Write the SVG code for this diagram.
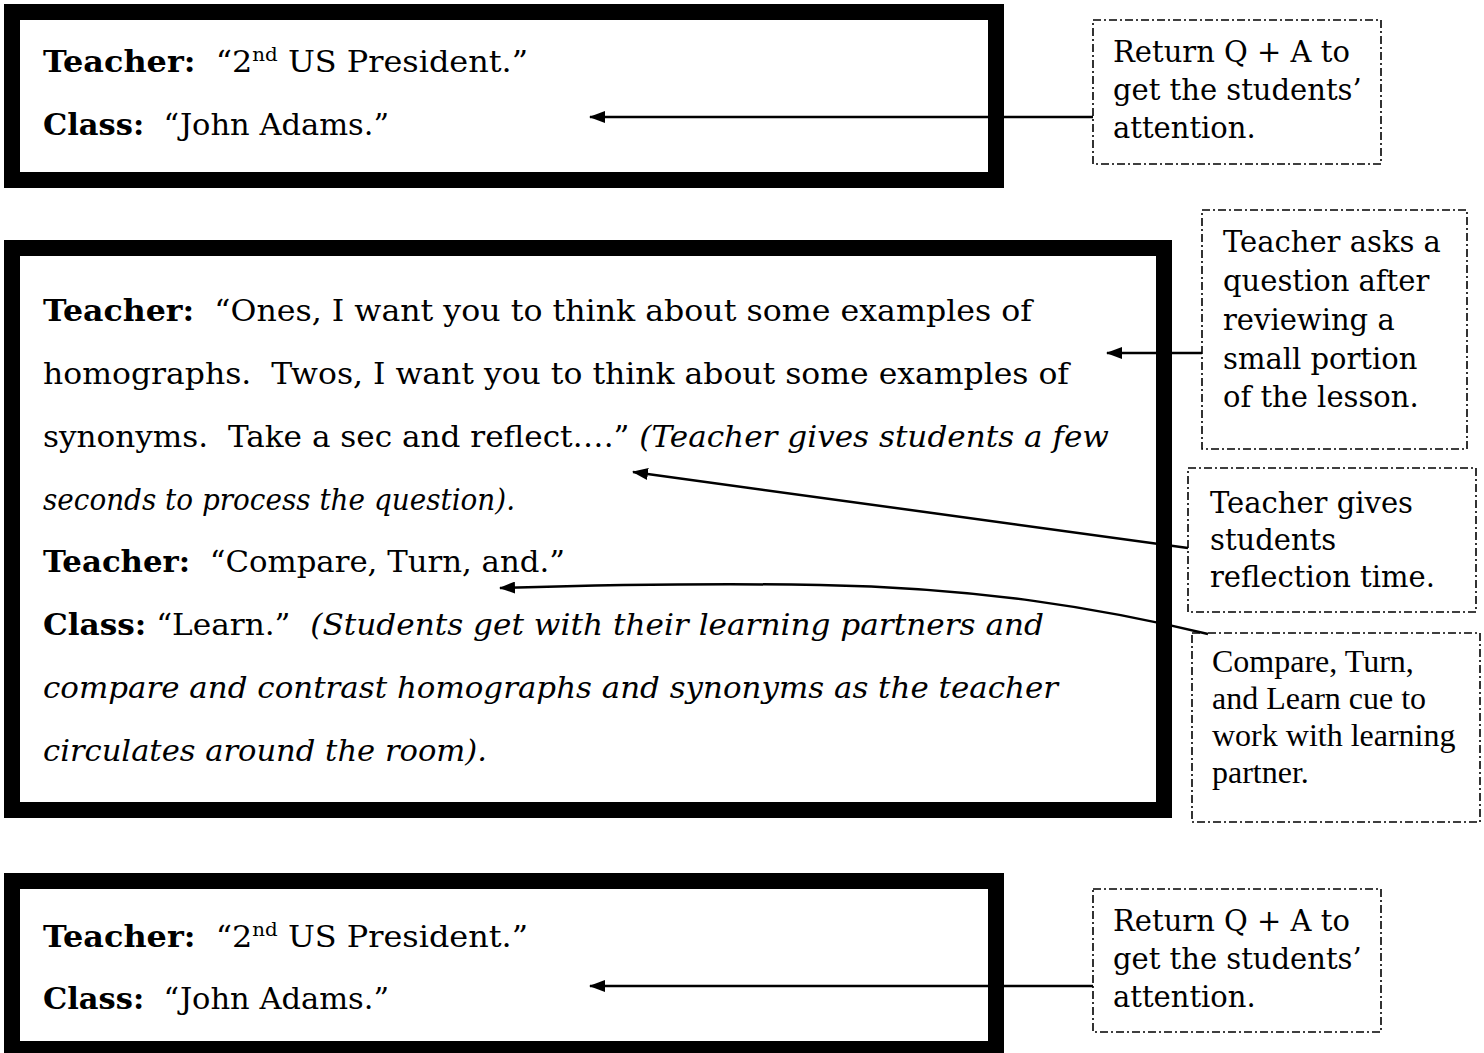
<svg xmlns="http://www.w3.org/2000/svg" width="1484" height="1053" viewBox="0 0 1484 1053" xml:space="preserve">
<defs>
<style>
text{white-space:pre}
.frame{fill:none;stroke:#000;stroke-width:16}
.call{fill:#fff;stroke:#000;stroke-width:1.6;stroke-dasharray:8 3 2 3}
.t{font-family:"DejaVu Serif","Liberation Serif",serif;font-size:30px;fill:#000}
.t1{font-family:"DejaVu Serif","Liberation Serif",serif;font-size:29px;fill:#000}
.c{font-family:"DejaVu Serif","Liberation Serif",serif;font-size:29px;fill:#000}
.c4{font-family:"Liberation Serif",serif;font-size:32px;fill:#000}
.b{font-weight:bold}
.i{font-style:italic}
.sup{font-size:18px}
.arr{fill:none;stroke:#000;stroke-width:2.5;marker-end:url(#ah)}
</style>
<marker id="ah" viewBox="0 0 16 12" refX="15" refY="6" markerUnits="userSpaceOnUse" markerWidth="16" markerHeight="12" orient="auto">
<path d="M0,0 L16,6 L0,12 z" fill="#000"/>
</marker>
</defs>
<rect width="1484" height="1053" fill="#fff"/>

<g id="box1">
<rect class="frame" x="12" y="12" width="984" height="168"/>
<text class="t1" x="43" y="72" textLength="485" lengthAdjust="spacingAndGlyphs"><tspan class="b">Teacher:</tspan>  “2<tspan class="sup" dy="-11">nd</tspan><tspan dy="11"> US President.”</tspan></text>
<text class="t1" x="43" y="135" textLength="346" lengthAdjust="spacingAndGlyphs"><tspan class="b">Class:</tspan>  “John Adams.”</text>
</g>

<g id="box2">
<rect class="frame" x="12" y="248" width="1152" height="562"/>
<text class="t" x="43" y="321" textLength="989" lengthAdjust="spacingAndGlyphs"><tspan class="b">Teacher:</tspan>  “Ones, I want you to think about some examples of</text>
<text class="t" x="43" y="384" textLength="1026" lengthAdjust="spacingAndGlyphs">homographs.  Twos, I want you to think about some examples of</text>
<text class="t" x="43" y="447" textLength="1066" lengthAdjust="spacingAndGlyphs">synonyms.  Take a sec and reflect….” <tspan class="i">(Teacher gives students a few</tspan></text>
<text class="t i" x="43" y="510" textLength="472" lengthAdjust="spacingAndGlyphs">seconds to process the question).</text>
<text class="t" x="43" y="572" textLength="522" lengthAdjust="spacingAndGlyphs"><tspan class="b">Teacher:</tspan>  “Compare, Turn, and.”</text>
<text class="t" x="43" y="635" textLength="1001" lengthAdjust="spacingAndGlyphs"><tspan class="b">Class:</tspan> “Learn.”  <tspan class="i">(Students get with their learning partners and</tspan></text>
<text class="t i" x="43" y="698" textLength="1015" lengthAdjust="spacingAndGlyphs">compare and contrast homographs and synonyms as the teacher</text>
<text class="t i" x="43" y="761" textLength="444" lengthAdjust="spacingAndGlyphs">circulates around the room).</text>
</g>

<g id="box3">
<rect class="frame" x="12" y="881" width="984" height="168"/>
<text class="t1" x="43" y="947" textLength="485" lengthAdjust="spacingAndGlyphs"><tspan class="b">Teacher:</tspan>  “2<tspan class="sup" dy="-11">nd</tspan><tspan dy="11"> US President.”</tspan></text>
<text class="t1" x="43" y="1009" textLength="346" lengthAdjust="spacingAndGlyphs"><tspan class="b">Class:</tspan>  “John Adams.”</text>
</g>

<g id="note1">
<rect class="call" x="1093" y="20" width="288" height="144"/>
<text class="c" x="1113" y="62">Return Q + A to</text>
<text class="c" x="1113" y="100">get the students’</text>
<text class="c" x="1113" y="138">attention.</text>
</g>

<g id="note2">
<rect class="call" x="1202" y="210" width="265" height="239"/>
<text class="c" x="1223" y="252">Teacher asks a</text>
<text class="c" x="1223" y="291">question after</text>
<text class="c" x="1223" y="330">reviewing a</text>
<text class="c" x="1223" y="369">small portion</text>
<text class="c" x="1223" y="407">of the lesson.</text>
</g>

<g id="note3">
<rect class="call" x="1188" y="468" width="288" height="144"/>
<text class="c" x="1210" y="513">Teacher gives</text>
<text class="c" x="1210" y="550">students</text>
<text class="c" x="1210" y="587">reflection time.</text>
</g>

<g id="note4">
<rect class="call" x="1192" y="633" width="288" height="189"/>
<text class="c4" x="1212" y="672">Compare, Turn,</text>
<text class="c4" x="1212" y="709">and Learn cue to</text>
<text class="c4" x="1212" y="746">work with learning</text>
<text class="c4" x="1212" y="783">partner.</text>
</g>

<g id="note5">
<rect class="call" x="1093" y="889" width="288" height="143"/>
<text class="c" x="1113" y="931">Return Q + A to</text>
<text class="c" x="1113" y="969">get the students’</text>
<text class="c" x="1113" y="1007">attention.</text>
</g>

<g id="connectors">
<path class="arr" d="M1093,117 L590,117"/>
<path class="arr" d="M1202,353 L1107,353"/>
<path class="arr" d="M1188,548 L633,472"/>
<path class="arr" d="M1208,634 C1100,608 980,588 820,585 C700,583 600,585 500,588"/>
<path class="arr" d="M1093,986 L590,986"/>
</g>
</svg>
